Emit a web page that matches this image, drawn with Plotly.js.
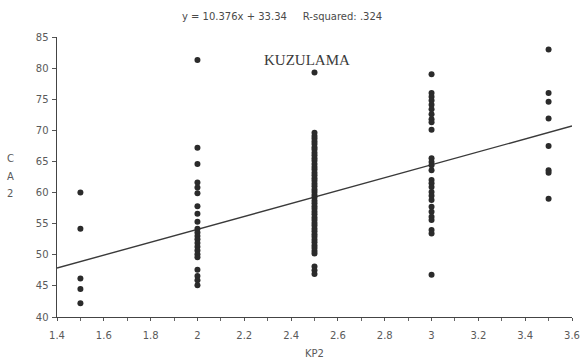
<!DOCTYPE html>
<html>
<head>
<meta charset="utf-8">
<script src="https://cdn.plot.ly/plotly-3.0.1.min.js"></script>
<style>
  html, body { margin: 0; padding: 0; background: #fff; }
  #chart { width: 580px; height: 364px; }
</style>
</head>
<body>
<div id="chart"></div>
<script>
// KP2 groups and the CA2 scores observed in each group
const kp2Groups = [1.5, 2, 2.5, 3, 3.5];

const ca2At15 = [60.0, 54.2, 46.2, 44.5, 42.2];
const ca2At20 = [81.3, 67.2, 64.6, 61.6, 60.8, 59.9, 57.8, 56.6, 55.3, 54.2, 53.6,
                 53.0, 52.5, 51.9, 51.3, 50.7, 50.1, 49.6, 47.6, 46.6, 45.9, 45.1];
const ca2At25 = [79.3, 69.6, 69.1, 68.7, 68.2, 67.8, 67.3, 66.9, 66.4, 66.0, 65.5,
                 65.1, 64.6, 64.1, 63.7, 63.2, 62.8, 62.3, 61.9, 61.4, 61.0, 60.5,
                 60.1, 59.6, 59.2, 58.7, 58.3, 57.8, 57.4, 56.9, 56.5, 56.0, 55.6,
                 55.1, 54.7, 54.2, 53.8, 53.3, 52.9, 52.4, 52.0, 51.5, 51.1, 50.6,
                 50.2, 48.1, 47.5, 46.9];
const ca2At30 = [79.0, 76.0, 75.4, 74.8, 74.1, 73.4, 72.6, 71.8, 71.3, 70.1, 65.5,
                 64.9, 64.4, 63.6, 62.0, 61.5, 60.9, 60.1, 59.5, 58.8, 57.7, 56.9,
                 56.1, 55.6, 54.0, 53.4, 46.8];
const ca2At35 = [83.0, 76.0, 74.6, 71.9, 67.5, 63.6, 63.2, 59.0];

// least-squares fit reported in the heading
const fitSlope = 10.376;
const fitIntercept = 33.34;
const fitRSquared = '.324';
const fitX = [1.4, 3.6];

const xTickVals = [1.4, 1.6, 1.8, 2, 2.2, 2.4, 2.6, 2.8, 3, 3.2, 3.4, 3.6];
const xTickText = ['1.4', '1.6', '1.8', '2', '2.2', '2.4', '2.6', '2.8', '3', '3.2', '3.4', '3.6'];
const yTickVals = [40, 45, 50, 55, 60, 65, 70, 75, 80, 85];
const yTitleLetters = ['C', 'A', '2'];

const groups = [ca2At15, ca2At20, ca2At25, ca2At30, ca2At35];
const px = [], py = [];
groups.forEach((vals, i) => vals.forEach(v => { px.push(kp2Groups[i]); py.push(v); }));

const ink = '#2b2b2b';
const labelInk = '#5a5a5a';

const points = {
  x: px, y: py, type: 'scatter', mode: 'markers',
  marker: { size: 6, color: ink },
  hoverinfo: 'x+y', showlegend: false
};

const fitLine = {
  x: fitX,
  y: fitX.map(x => fitSlope * x + fitIntercept),
  type: 'scatter', mode: 'lines',
  line: { color: '#3a3a3a', width: 1.4 },
  hoverinfo: 'skip', showlegend: false
};

// vertical axis title, one letter per line
const yTitleNotes = yTitleLetters.map((ch, i) => ({
  text: ch, xref: 'paper', yref: 'paper',
  x: -0.091, y: 0.566 - i * 0.0625,
  xanchor: 'center', yanchor: 'middle', showarrow: false,
  font: { size: 10, color: labelInk }
}));

const layout = {
  width: 580, height: 364,
  margin: { l: 57, r: 8, t: 37, b: 47 },
  paper_bgcolor: '#ffffff', plot_bgcolor: '#ffffff',
  font: { family: 'DejaVu Sans, sans-serif', size: 10, color: labelInk },
  title: {
    text: 'y = ' + fitSlope + 'x + ' + fitIntercept + '     R-squared: ' + fitRSquared,
    font: { family: 'DejaVu Sans, sans-serif', size: 10, color: '#4a4a4a' },
    xref: 'paper', x: 0.437, xanchor: 'center',
    yref: 'container', y: 0.955, yanchor: 'middle'
  },
  xaxis: {
    range: [1.4, 3.6], showgrid: false, zeroline: false,
    showline: true, linecolor: '#444', linewidth: 1.4,
    ticks: 'outside', ticklen: 3, tickcolor: '#555', tickwidth: 1,
    tickvals: xTickVals, ticktext: xTickText,
    tickfont: { size: 10, color: labelInk },
    ticklabelstandoff: 6,
    minor: { dtick: 0.1, tick0: 1.4, ticks: 'outside', ticklen: 3, tickcolor: '#666', showgrid: false }
  },
  yaxis: {
    range: [40, 85], showgrid: false, zeroline: false,
    showline: true, linecolor: '#444', linewidth: 1.4,
    ticks: 'outside', ticklen: 4, tickcolor: '#555', tickwidth: 1,
    tickvals: yTickVals, tickfont: { size: 10, color: labelInk },
    ticklabelstandoff: 1
  },
  annotations: [
    {
      text: 'KUZULAMA', xref: 'x', yref: 'y', x: 2.47, y: 81.3,
      showarrow: false,
      font: { family: 'Liberation Serif, serif', size: 15, color: '#3a3a3a' }
    },
    {
      text: 'KP2', xref: 'paper', yref: 'paper', x: 0.5, y: -0.129,
      xanchor: 'center', yanchor: 'middle', showarrow: false,
      font: { size: 10, color: labelInk }
    }
  ].concat(yTitleNotes)
};

Plotly.newPlot('chart', [fitLine, points], layout, { staticPlot: true, displayModeBar: false });
</script>
</body>
</html>
